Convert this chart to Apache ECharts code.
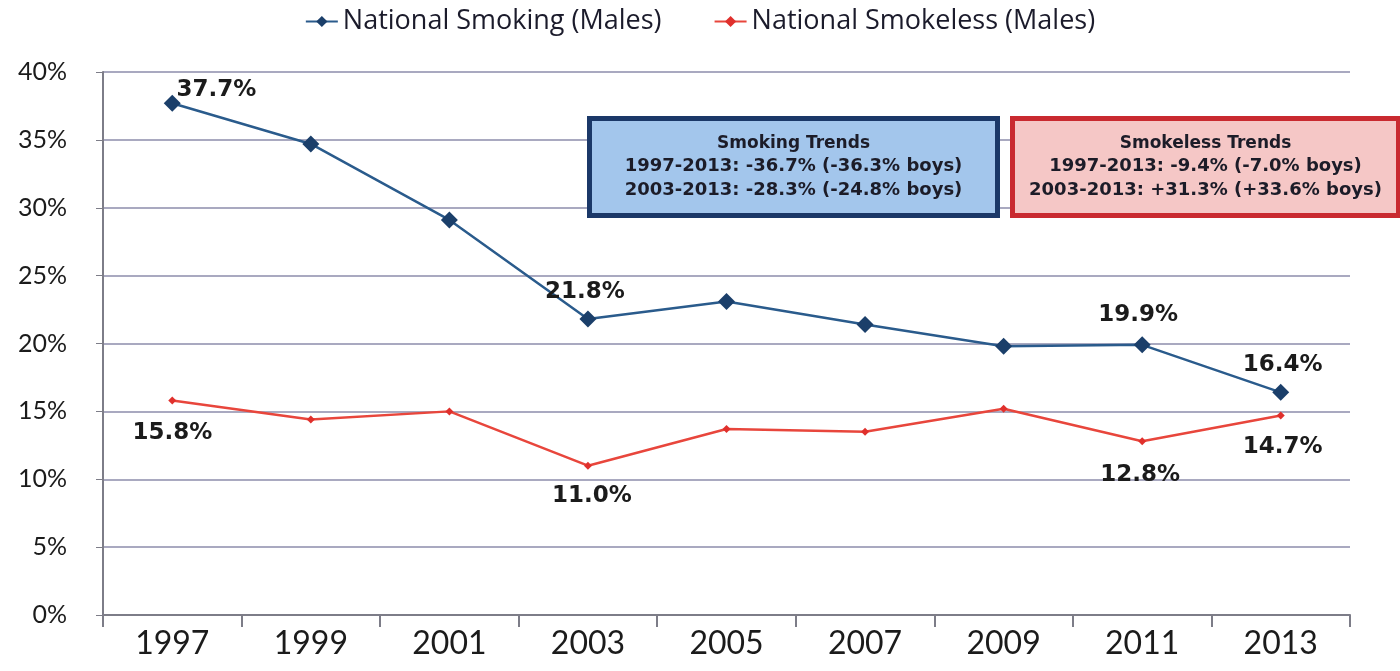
<!DOCTYPE html>
<html>
<head>
<meta charset="utf-8">
<script src="https://cdn.jsdelivr.net/npm/echarts@6/dist/echarts.min.js"></script>
<style>html,body{margin:0;padding:0;background:#fff}#c{width:1400px;height:671px}</style>
</head>
<body>
<div id="c"></div>
<script>
var years = ['1997','1999','2001','2003','2005','2007','2009','2011','2013'];
var smoking = [37.7, 34.7, 29.1, 21.8, 23.1, 21.4, 19.8, 19.9, 16.4];
var smokeless = [15.8, 14.4, 15.0, 11.0, 13.7, 13.5, 15.2, 12.8, 14.7];
var smokingLabelIdx = [0, 3, 7, 8];
var smokelessLabelIdx = [0, 3, 7, 8];
var smokingBox = ['Smoking Trends', '1997-2013: -36.7% (-36.3% boys)', '2003-2013: -28.3% (-24.8% boys)'];
var smokelessBox = ['Smokeless Trends', '1997-2013: -9.4% (-7.0% boys)', '2003-2013: +31.3% (+33.6% boys)'];

var labelFont = {fontFamily: 'DejaVu Sans', fontWeight: 'bold', fontSize: 23, color: '#1b1b1b'};
function buildData(vals, idx, pos, offsets) {
  return vals.map(function (v, i) {
    var k = idx.indexOf(i);
    if (k < 0) return v;
    return {value: v, label: Object.assign({show: true, position: pos, offset: offsets[k],
      formatter: function (p) { return p.value.toFixed(1) + '%'; }}, labelFont)};
  });
}
var smokingData = buildData(smoking, smokingLabelIdx, 'top', [[44, 12], [-3, -2], [-4, -5], [2, -2]]);
var smokelessData = buildData(smokeless, smokelessLabelIdx, 'bottom', [[0, 12], [4, 10], [-2, 13], [2, 11]]);

function box(x, y, w, h, fill, stroke, lines) {
  var ts = {textAlign: 'center', textVerticalAlign: 'middle', fontFamily: 'DejaVu Sans', fontWeight: 'bold', fill: '#1c1c28'};
  return {
    type: 'group', left: x, top: y, z: 100,
    children: [
      {type: 'rect', z: 100, shape: {x: 0, y: 0, width: w, height: h}, style: {fill: fill, stroke: stroke, lineWidth: 5}},
      {type: 'text', z: 101, x: w / 2, y: 25, style: Object.assign({text: lines[0], fontSize: 17}, ts)},
      {type: 'text', z: 101, x: w / 2, y: 48, style: Object.assign({text: lines[1], fontSize: 18}, ts)},
      {type: 'text', z: 101, x: w / 2, y: 72, style: Object.assign({text: lines[2], fontSize: 18}, ts)}
    ]
  };
}

var chart = echarts.init(document.getElementById('c'));
chart.setOption({
  animation: false,
  backgroundColor: '#ffffff',
  legend: {
    top: 3, left: 'center', itemGap: 52, itemWidth: 32, itemHeight: 14,
    textStyle: {fontFamily: 'Open Sans', fontSize: 27, color: '#1b1b2b'},
    data: ['National Smoking (Males)', 'National Smokeless (Males)']
  },
  grid: {left: 103, right: 50, top: 72, bottom: 56},
  xAxis: {
    type: 'category', data: years, boundaryGap: true,
    axisLine: {lineStyle: {color: '#7d7d88', width: 2}},
    axisTick: {show: true, length: 12, lineStyle: {color: '#7d7d88', width: 2}},
    axisLabel: {fontFamily: 'Lato', fontSize: 32, color: '#1b1b1b', margin: 13}
  },
  yAxis: {
    type: 'value', min: 0, max: 40, interval: 5,
    axisLine: {show: true, lineStyle: {color: '#7d7d88', width: 2}},
    axisTick: {show: true, length: 7, lineStyle: {color: '#7d7d88'}},
    axisLabel: {formatter: '{value}%', fontFamily: 'Lato', fontSize: 25, color: '#1b1b1b', margin: 36},
    splitLine: {lineStyle: {color: '#a9a9c0', width: 2}}
  },
  graphic: [
    box(587, 116, 408, 97, '#a3c6ec', '#1b3868', smokingBox),
    box(1010, 116, 386, 97, '#f5c7c6', '#c92a30', smokelessBox)
  ],
  series: [
    {
      name: 'National Smoking (Males)', type: 'line', data: smokingData,
      symbol: 'diamond', symbolSize: 17,
      lineStyle: {color: '#2a5b8c', width: 2.5},
      itemStyle: {color: '#1b3f6a'},
      label: {show: false}
    },
    {
      name: 'National Smokeless (Males)', type: 'line', data: smokelessData,
      symbol: 'diamond', symbolSize: 8,
      lineStyle: {color: '#e8463c', width: 2.5},
      itemStyle: {color: '#e0302c'},
      label: {show: false}
    }
  ]
});
</script>
</body>
</html>
